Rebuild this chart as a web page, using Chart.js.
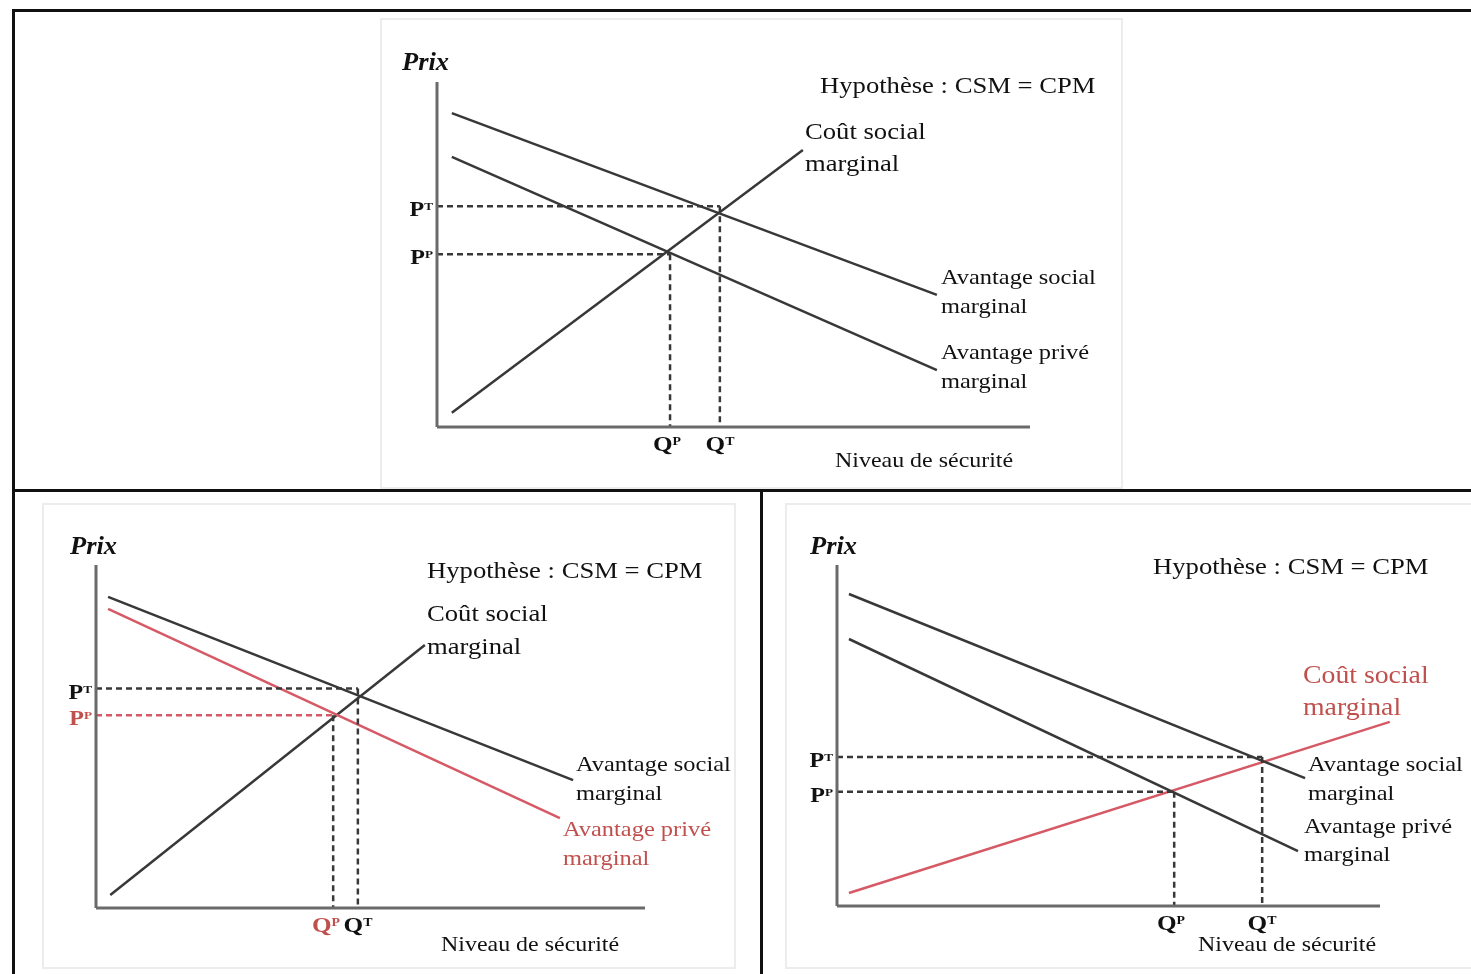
<!DOCTYPE html>
<html lang="fr">
<head>
<meta charset="UTF-8">
<title>Niveau de sécurité - CSM / CPM</title>
<script src="https://cdn.jsdelivr.net/npm/chart.js"></script>
<style>
  body { margin: 0; background: #fff; }
  #page { position: relative; width: 1471px; height: 974px; overflow: hidden; background: #fff; }
  .bar { position: absolute; background: #111; }
  .box { position: absolute; border: 2px solid #ececec; box-sizing: border-box; }
  .panel { position: absolute; }
  .txt { position: absolute; font-family: "Liberation Serif", "DejaVu Serif", serif; white-space: nowrap; color: #111; }
  .txt sup { font-size: 55%; vertical-align: 0.55em; }
</style>
</head>
<body>
<div id="page">
  <div class="bar" style="left:12px;top:9px;width:1459px;height:3px"></div>
  <div class="bar" style="left:12px;top:9px;width:3px;height:965px"></div>
  <div class="bar" style="left:12px;top:489px;width:1459px;height:3px"></div>
  <div class="bar" style="left:760px;top:489px;width:3px;height:485px"></div>
  <div class="box" style="left:380px;top:18px;width:743px;height:471px"></div>
  <div class="box" style="left:42px;top:503px;width:694px;height:466px"></div>
  <div class="box" style="left:785px;top:503px;width:690px;height:466px"></div>
</div>
<script>
// quantity (x) and price (y) on a 0-100 scale for each panel

// top panel
const topSocialBenefit = [{x: 2.5, y: 91.0}, {x: 84.3, y: 38.3}];
const topPrivateBenefit = [{x: 2.5, y: 78.3}, {x: 84.3, y: 16.5}];
const topSocialCost = [{x: 2.5, y: 4.1}, {x: 61.7, y: 80.3}];
const topQ = [39.3, 47.7];   // Q^P, Q^T
const topP = [50.1, 64.0];   // P^P, P^T

// bottom-left panel
const leftSocialBenefit = [{x: 2.2, y: 90.7}, {x: 86.9, y: 37.3}];
const leftPrivateBenefit = [{x: 2.2, y: 87.2}, {x: 84.5, y: 26.2}];
const leftSocialCost = [{x: 2.6, y: 3.8}, {x: 59.9, y: 76.7}];
const leftQ = [43.2, 47.7];
const leftP = [56.2, 64.0];

// bottom-right panel
const rightSocialBenefit = [{x: 2.2, y: 91.5}, {x: 86.2, y: 37.5}];
const rightPrivateBenefit = [{x: 2.2, y: 78.3}, {x: 84.9, y: 16.1}];
const rightSocialCost = [{x: 2.2, y: 3.8}, {x: 101.8, y: 54.0}];
const rightQ = [62.1, 78.3];
const rightP = [33.5, 43.7];

const BLACK = '#383838';
const AXIS = '#6a6a6a';
const RED_LINE = '#d65a66';
const RED_TXT = '#c0504d';
const STRETCH = 1.11; // the original picture is a bit wider than tall

const page = document.getElementById('page');

function addText(html, x, baseline, size, o) {
    o = o || {};
    const lh = o.lh || size;
    const d = document.createElement('div');
    d.className = 'txt';
    d.innerHTML = html;
    d.style.fontSize = size + 'px';
    d.style.lineHeight = lh + 'px';
    d.style.left = x + 'px';
    d.style.top = (baseline - ((lh - 1.107 * size) / 2 + 0.891 * size)) + 'px';
    if (o.color) d.style.color = o.color;
    if (o.bold) d.style.fontWeight = 'bold';
    if (o.italic) d.style.fontStyle = 'italic';
    const sc = 'scaleX(' + (o.stretch || STRETCH) + ')';
    if (o.align === 'right') {
        d.style.transformOrigin = 'right center';
        d.style.transform = 'translateX(-100%) ' + sc;
    } else if (o.align === 'center') {
        d.style.transformOrigin = 'center center';
        d.style.transform = 'translateX(-50%) ' + sc;
    } else {
        d.style.transformOrigin = 'left center';
        d.style.transform = sc;
    }
    page.appendChild(d);
}

function seg(data, color, dash) {
    return {
        data: data, showLine: true, borderColor: color, borderWidth: 2.5,
        borderDash: dash ? [6, 4] : [], pointRadius: 0, tension: 0, clip: false
    };
}

function makePanel(p) {
    const wrap = document.createElement('div');
    wrap.className = 'panel';
    wrap.style.left = p.left + 'px';
    wrap.style.top = p.top + 'px';
    wrap.style.width = p.width + 'px';
    wrap.style.height = p.height + 'px';
    const cv = document.createElement('canvas');
    wrap.appendChild(cv);
    page.appendChild(wrap);

    const q = p.q, pr = p.pr;
    const datasets = [
        seg([{x: 0, y: 0}, {x: 0, y: 100}], AXIS),
        seg([{x: 0, y: 0}, {x: 100, y: 0}], AXIS),
        seg([{x: 0, y: pr[1]}, {x: q[1], y: pr[1]}], BLACK, true),
        seg([{x: 0, y: pr[0]}, {x: q[0], y: pr[0]}], p.ppColor || BLACK, true),
        seg([{x: q[1], y: pr[1]}, {x: q[1], y: 0}], BLACK, true),
        seg([{x: q[0], y: pr[0]}, {x: q[0], y: 0}], BLACK, true),
        seg(p.asm, BLACK),
        seg(p.apm, p.apmColor || BLACK),
        seg(p.csm, p.csmColor || BLACK)
    ];
    datasets[0].borderWidth = 3;
    datasets[1].borderWidth = 3;

    const chart = new Chart(cv.getContext('2d'), {
        type: 'scatter',
        data: {datasets: datasets},
        options: {
            responsive: true,
            maintainAspectRatio: false,
            animation: false,
            layout: {padding: p.pad},
            plugins: {legend: {display: false}, tooltip: {enabled: false}},
            scales: {
                x: {type: 'linear', min: 0, max: 100, display: false},
                y: {type: 'linear', min: 0, max: 100, display: false}
            }
        }
    });

    const sx = v => p.left + chart.scales.x.getPixelForValue(v);
    const sy = v => p.top + chart.scales.y.getPixelForValue(v);
    const ox = sx(0), oy = sy(0);
    const red = p.ppColor ? RED_TXT : null;
    addText('P<sup>P</sup>', ox - 4, sy(pr[0]) + 7, 20, {bold: true, align: 'right', color: red, stretch: 1.2});
    addText('P<sup>T</sup>', ox - 4, sy(pr[1]) + 7, 20, {bold: true, align: 'right', stretch: 1.2});
    addText('Q<sup>P</sup>', sx(q[0]) + (p.qpShift || 0), oy + 22, 21, {bold: true, align: 'center', color: red, stretch: 1.2});
    addText('Q<sup>T</sup>', sx(q[1]), oy + 22, 21, {bold: true, align: 'center', stretch: 1.2});
    return chart;
}

makePanel({
    left: 380, top: 18, width: 742, height: 472,
    pad: {left: 57, top: 64, right: 92, bottom: 63},
    asm: topSocialBenefit, apm: topPrivateBenefit, csm: topSocialCost, q: topQ, pr: topP,
    qpShift: -3
});
makePanel({
    left: 42, top: 503, width: 693, height: 465,
    pad: {left: 54, top: 62, right: 90, bottom: 60},
    asm: leftSocialBenefit, apm: leftPrivateBenefit, csm: leftSocialCost, q: leftQ, pr: leftP,
    apmColor: RED_LINE, ppColor: RED_LINE, qpShift: -7
});
makePanel({
    left: 785, top: 503, width: 686, height: 465,
    pad: {left: 52, top: 62, right: 91, bottom: 62},
    asm: rightSocialBenefit, apm: rightPrivateBenefit, csm: rightSocialCost, q: rightQ, pr: rightP,
    csmColor: RED_LINE, qpShift: -3
});

// texts: top panel
addText('Prix', 402, 70, 25, {bold: true, italic: true, stretch: 1.06});
addText('Hypothèse : CSM = CPM', 820, 93, 24);
addText('Coût social<br>marginal', 805, 139, 24, {lh: 32});
addText('Avantage social<br>marginal', 941, 284, 22, {lh: 29});
addText('Avantage privé<br>marginal', 941, 359, 22, {lh: 29});
addText('Niveau de sécurité', 835, 468, 21, {stretch: 1.14});

// bottom-left panel
addText('Prix', 70, 554, 25, {bold: true, italic: true, stretch: 1.06});
addText('Hypothèse : CSM = CPM', 427, 578, 24);
addText('Coût social<br>marginal', 427, 622, 24, {lh: 33});
addText('Avantage social<br>marginal', 576, 771, 22, {lh: 29});
addText('Avantage privé<br>marginal', 563, 836, 22, {lh: 29, color: RED_TXT});
addText('Niveau de sécurité', 441, 952, 21, {stretch: 1.14});

// bottom-right panel
addText('Prix', 810, 554, 25, {bold: true, italic: true, stretch: 1.06});
addText('Hypothèse : CSM = CPM', 1153, 574, 24);
addText('Coût social<br>marginal', 1303, 683, 25, {lh: 32, color: RED_TXT});
addText('Avantage social<br>marginal', 1308, 771, 22, {lh: 29});
addText('Avantage privé<br>marginal', 1304, 833, 22, {lh: 28});
addText('Niveau de sécurité', 1198, 952, 21, {stretch: 1.14});
</script>
</body>
</html>
